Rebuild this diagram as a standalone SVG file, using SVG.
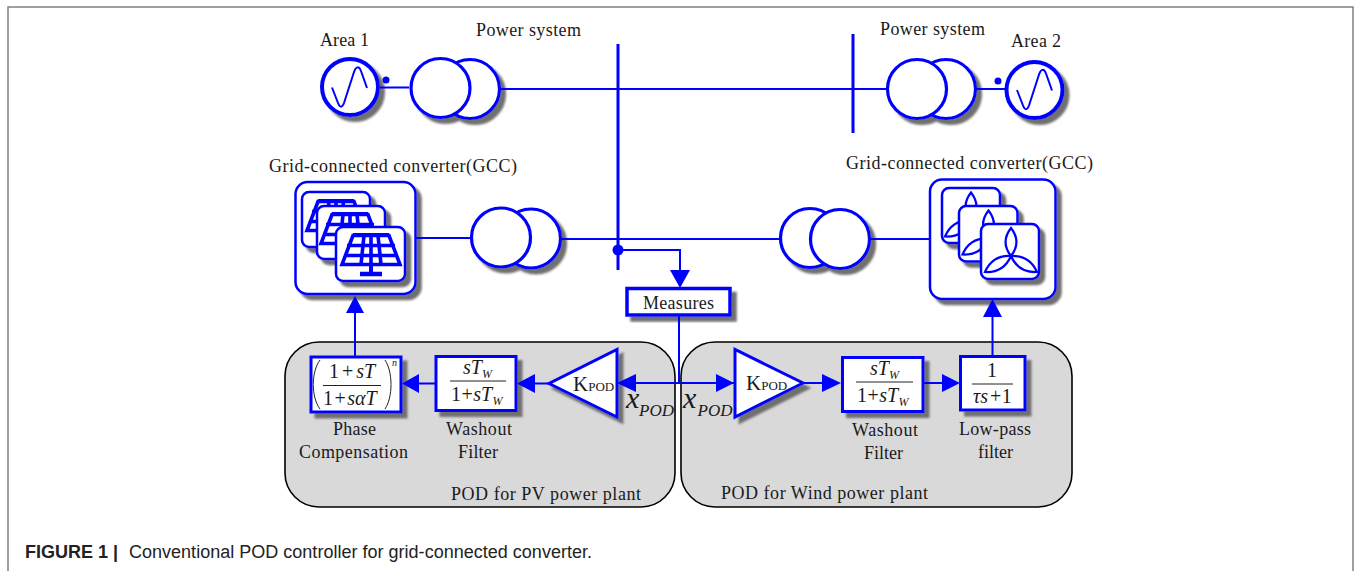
<svg xmlns="http://www.w3.org/2000/svg" width="1356" height="571" viewBox="0 0 1356 571">
<style>
.c{fill:#fff;stroke:#00f;stroke-width:3.2}
.shg{filter:url(#sh)}
.box{fill:#fff;stroke:#00f;stroke-width:3;filter:url(#sh)}
.card{fill:#fff;stroke:#00f;stroke-width:2.5;filter:url(#sh)}
.l{fill:none;stroke:#00f;stroke-width:2}
.bus{fill:none;stroke:#00f;stroke-width:3}
.h{fill:#00f;stroke:none}
.panel{fill:#d9d9d9;stroke:#000;stroke-width:1.6}
.frac{stroke:#222;stroke-width:1;fill:none}
text{font-family:"Liberation Serif","Times New Roman",serif;font-size:18px;fill:#1a1a1a}
.m{font-size:20px}
.i{font-style:italic}
.sub{font-size:12px;font-style:italic}
.cap{font-family:"Liberation Sans",Arial,sans-serif;font-size:18px;fill:#222}
</style>
<defs>
<filter id="sh" x="-20%" y="-20%" width="150%" height="150%"><feDropShadow dx="5" dy="5" stdDeviation="1.2" flood-color="#707070"/></filter>
<g id="pv"><path d="M-18 0H18L29 29H-29ZM-24 10H24M-26.500 20H26.500M-7 0L-10 29M7 0L10 29" fill="none" stroke="#00f" stroke-width="3.600"/><path d="M-18 -0.500H18" stroke="#00f" stroke-width="4"/><path d="M0 0V29" fill="none" stroke="#00f" stroke-width="3.600"/><path d="M0 29V37" fill="none" stroke="#00f" stroke-width="4"/><path d="M-11 38.500H11" fill="none" stroke="#00f" stroke-width="4.500"/></g>
<g id="turb" fill="none" stroke="#00f" stroke-width="2.200"><path d="M0 0C-7 -9 -7 -19 0 -28C7 -19 7 -9 0 0Z"/><path d="M0 0C-5 11.300 -13.700 16.700 -26 16C-21 4.700 -12.300 -0.700 0 0Z"/><path d="M0 0C5 11.300 13.700 16.700 26 16C21 4.700 12.300 -0.700 0 0Z"/></g>
</defs>
<path id="frame" d="M8 571V7H1353V571" fill="none" stroke="#808080" stroke-width="1.500"/>
<g id="panel-pv"><rect class="panel" x="285" y="342" width="390" height="165" rx="34"/></g>
<g id="panel-wind"><rect class="panel" x="681" y="342" width="391" height="165" rx="34"/></g>
<g id="area1"><circle class="c shg" cx="350" cy="87" r="28" style="stroke-width:4"/><path class="l" d="M332 87.500L338 103C340 108 342 108 344 103L354 72C356 66 359 66 361 71L367 88"/><text x="320" y="46" textLength="49">Area 1</text></g>
<g id="ps1"><g class="shg"><circle class="c" cx="470" cy="89" r="29.500"/><circle class="c" cx="440.500" cy="88" r="29.500"/></g><text x="476" y="36" textLength="105">Power system</text></g>
<g id="ps2"><g class="shg"><circle class="c" cx="946" cy="89" r="29.500"/><circle class="c" cx="917" cy="89" r="29.500"/></g><text x="880" y="35" textLength="105">Power system</text></g>
<g id="area2"><circle class="c shg" cx="1034.500" cy="90" r="28" style="stroke-width:4"/><path class="l" transform="translate(685 2.500)" d="M332 87.500L338 103C340 108 342 108 344 103L354 72C356 66 359 66 361 71L367 88"/><text x="1011" y="47" textLength="50">Area 2</text></g>
<g id="tr-pv"><g class="shg"><circle class="c" cx="531" cy="238.500" r="29.500"/><circle class="c" cx="501" cy="237.500" r="29.500"/></g></g>
<g id="tr-wind"><g class="shg"><circle class="c" cx="810" cy="238" r="29.500"/><circle class="c" cx="840" cy="239" r="29.500"/></g></g>
<g id="gcc-pv">
<rect class="card" x="295.500" y="182" width="120" height="112" rx="12"/>
<rect class="card" x="302" y="192" width="68" height="55" rx="7"/><use href="#pv" x="336" y="201.500"/>
<rect class="card" x="317" y="206" width="68" height="53" rx="7"/><use href="#pv" x="350" y="214.500"/>
<rect x="336" y="227" width="69" height="54" rx="7" class="card"/><use href="#pv" x="371" y="235.500"/>
<text x="269" y="172" textLength="248">Grid-connected converter(GCC)</text>
</g>
<g id="gcc-wind">
<rect class="card" x="930" y="179.500" width="125.500" height="119.500" rx="12"/>
<rect class="card" x="942" y="188" width="58" height="55" rx="7"/><use href="#turb" x="971" y="220.500"/>
<rect class="card" x="959" y="206" width="58.500" height="55.500" rx="7"/><use href="#turb" x="988.500" y="238.500"/>
<rect class="card" x="981" y="224" width="58" height="55" rx="7"/><use href="#turb" x="1011" y="256"/>
<text x="846" y="169" textLength="247">Grid-connected converter(GCC)</text>
</g>
<g id="measures"><rect class="box" x="627" y="288.500" width="103" height="26.500" style="stroke-width:3.500"/><text x="643" y="309" textLength="71">Measures</text></g>
<g id="phase">
<rect class="box" x="311" y="357" width="90" height="55"/>
<text class="m" x="329" y="378">1<tspan dx="3">+</tspan><tspan class="i" dx="3">sT</tspan></text>
<path class="frac" d="M323 385.500H381"/>
<text class="m" x="323" y="405">1<tspan dx="1.500">+</tspan><tspan class="i" dx="1.500">sαT</tspan></text>
<path class="frac" d="M320 360C311 372 311 397 320 409M385 360C393 372 393 397 385 409"/>
<text class="i" x="392" y="366" style="font-size:10px">n</text>
<text x="333" y="435" textLength="43">Phase</text><text x="299" y="458" textLength="109">Compensation</text>
</g>
<g id="washout-pv">
<rect class="box" x="436" y="356.500" width="80" height="54"/>
<text class="m i" x="463" y="374">sT</text><text class="sub" x="482" y="378">W</text>
<path class="frac" d="M450 381H506"/>
<text class="m" x="451" y="401">1<tspan dx="0.500">+</tspan><tspan class="i" dx="0.500">sT</tspan></text><text class="sub" x="492.500" y="405">W</text>
<text x="446" y="435" textLength="66">Washout</text><text x="458" y="458" textLength="40">Filter</text>
</g>
<g id="kpod-pv">
<path class="box" d="M617 349.500V417L549 383.500Z"/>
<text x="573" y="391" style="font-size:21px">K<tspan style="font-size:13px">POD</tspan></text>
<text class="i" x="626" y="408" style="font-size:30px">x</text><text class="i" x="639" y="416" style="font-size:17px" textLength="35">POD</text>
</g>
<g id="kpod-wind">
<path class="box" d="M735 349.500V417L803 383Z"/>
<text x="746" y="389.500" style="font-size:21px">K<tspan style="font-size:13px">POD</tspan></text>
<text class="i" x="683" y="408" style="font-size:30px">x</text><text class="i" x="697.500" y="416" style="font-size:17px" textLength="35">POD</text>
</g>
<g id="washout-wind">
<rect class="box" x="842.500" y="357.500" width="80.500" height="54"/>
<text class="m i" x="870" y="375">sT</text><text class="sub" x="889" y="379">W</text>
<path class="frac" d="M856 382H913"/>
<text class="m" x="857" y="402">1<tspan dx="0.500">+</tspan><tspan class="i" dx="0.500">sT</tspan></text><text class="sub" x="898.500" y="406">W</text>
<text x="852" y="436" textLength="66">Washout</text><text x="864" y="459" textLength="39">Filter</text>
</g>
<g id="lowpass">
<rect class="box" x="960.500" y="356.500" width="64.500" height="53.500"/>
<text class="m" x="987" y="377">1</text>
<path class="frac" d="M972 384H1013"/>
<text class="m" x="973" y="403"><tspan class="i">τs</tspan><tspan dx="2">+</tspan><tspan dx="0.500">1</tspan></text>
<text x="959" y="435" textLength="72">Low-pass</text><text x="978" y="458" textLength="35">filter</text>
</g>
<g id="connectors">
<path class="l" d="M380 87.500H409M500 89H886M977 89H1005M416 238H470M562 239H780M871 239H931M618 250H680V270"/>
<path class="l" d="M679 315V383M620 383H735M548 383.500H520M436 383.500H405M355 356V310M804 383H825M923 383H945M992.500 356V314"/>
<path class="bus" d="M618 44V270M853 34V133"/>
<circle class="h" cx="386" cy="80" r="3.500"/><circle class="h" cx="998" cy="81" r="3.500"/><circle class="h" cx="618" cy="250" r="5.500"/>
<path class="h" d="M670 270H690L680 288ZM617 383L636 374V392ZM734 383L716 374V392ZM517 383.500L535 374V393ZM402 383.500L419 374V393ZM355 296L364 313H346ZM841 383L822 374V392ZM960 383L942 374V392ZM992.500 299L1002 317H983Z"/>
</g>
<text id="label-pv" x="451" y="500" textLength="190">POD for PV power plant</text>
<text id="label-wind" x="721" y="499" textLength="207">POD for Wind power plant</text>
<text id="caption-b" class="cap" x="25" y="558" style="font-weight:bold">FIGURE 1 |</text>
<text id="caption" class="cap" x="129" y="558" textLength="463">Conventional POD controller for grid-connected converter.</text>
</svg>
